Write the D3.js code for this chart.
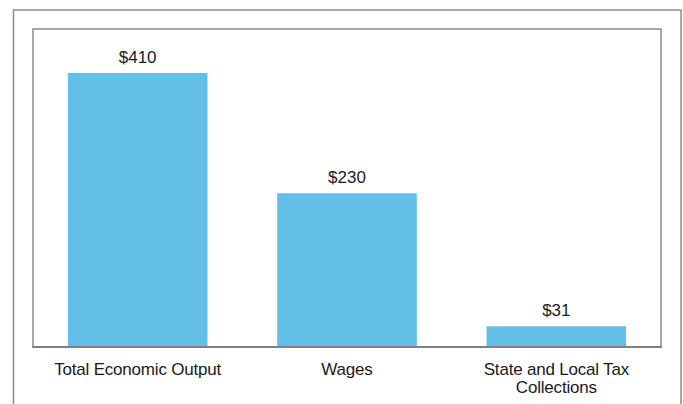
<!DOCTYPE html>
<html><head><meta charset="utf-8">
<script src="https://d3js.org/d3.v7.min.js"></script>
<style>body{margin:0;background:#fff}svg{display:block}</style>
</head><body>
<script>
const categories = [["Total Economic Output"], ["Wages"], ["State and Local Tax", "Collections"]];
const values = [410, 230, 31];
const valueLabels = ["$410", "$230", "$31"];

const W = 683, H = 404;
const svg = d3.select("body").append("svg").attr("width", W).attr("height", H);

// outer frame
svg.append("rect").attr("x", 13.5).attr("y", 10).attr("width", 667.5).attr("height", 420)
  .attr("fill", "none").attr("stroke", "#8c8c8c").attr("stroke-width", 1.5);

const plot = {l: 33, t: 29, r: 661, b: 347};
const x = d3.scaleBand().domain(d3.range(values.length)).range([plot.l, plot.r]).paddingInner(0.333).paddingOuter(0.1665);
const y = d3.scaleLinear().domain([0, 410 * (plot.b - plot.t) / 274]).range([plot.b, plot.t]);

svg.append("rect").attr("x", plot.l).attr("y", plot.t).attr("width", plot.r - plot.l).attr("height", plot.b - plot.t)
  .attr("fill", "none").attr("stroke", "#8c8c8c").attr("stroke-width", 1.5);

svg.selectAll("rect.bar").data(values).join("rect").attr("class", "bar")
  .attr("x", (d, i) => x(i)).attr("width", x.bandwidth())
  .attr("y", d => y(d)).attr("height", d => y(0) - y(d))
  .attr("fill", "#62c0e8");

svg.append("line").attr("x1", plot.l - 0.75).attr("x2", plot.r + 0.75).attr("y1", plot.b).attr("y2", plot.b)
  .attr("stroke", "#808080").attr("stroke-width", 2);

const font = "'Liberation Sans', Arial, sans-serif";
svg.selectAll("text.val").data(values).join("text").attr("class", "val")
  .attr("x", (d, i) => x(i) + x.bandwidth() / 2).attr("y", d => y(d) - 10.5)
  .attr("text-anchor", "middle").attr("font-family", font).attr("font-size", 17).attr("fill", "#1a1a1a")
  .text((d, i) => valueLabels[i]);

const cat = svg.selectAll("text.cat").data(categories).join("text").attr("class", "cat")
  .attr("text-anchor", "middle").attr("font-family", font).attr("font-size", 17).attr("fill", "#1a1a1a")
  .attr("letter-spacing", -0.2);
cat.each(function(lines, i) {
  d3.select(this).selectAll("tspan").data(lines).join("tspan")
    .attr("x", x(i) + x.bandwidth() / 2).attr("y", (l, j) => 375 + j * 17.7).text(l => l);
});
</script>
</body></html>
